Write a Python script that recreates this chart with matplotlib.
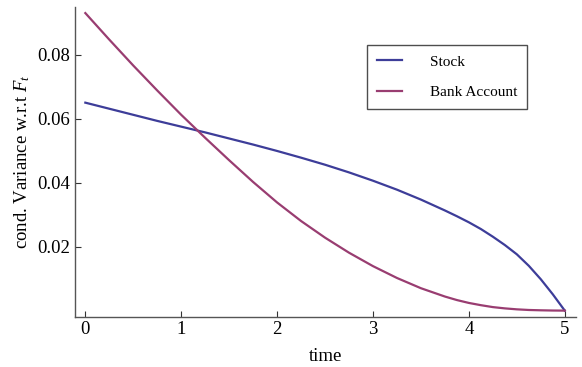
import matplotlib
matplotlib.use("Agg")
import matplotlib.pyplot as plt

plt.rcParams['font.family'] = ['Liberation Serif', 'DejaVu Serif']
plt.rcParams['mathtext.fontset'] = 'custom'
plt.rcParams['mathtext.rm'] = 'Liberation Serif'
plt.rcParams['mathtext.it'] = 'Liberation Serif:italic'

# data
time = [0.0, 0.25, 0.5, 0.75, 1.0, 1.25, 1.5, 1.75, 2.0, 2.25, 2.5, 2.75,
        3.0, 3.25, 3.5, 3.75, 3.875, 4.0, 4.125, 4.25, 4.375, 4.5, 4.625,
        4.75, 4.875, 5.0]
stock = [0.0650, 0.0631, 0.0612, 0.0593, 0.0575, 0.0557, 0.0538, 0.0519,
         0.0499, 0.0478, 0.0456, 0.0432, 0.0406, 0.0378, 0.0347, 0.0313,
         0.0295, 0.0276, 0.0255, 0.0231, 0.0205, 0.0176, 0.0140, 0.0098,
         0.0051, 0.0000]
bank = [0.0930, 0.0847, 0.0766, 0.0688, 0.0612, 0.0540, 0.0470, 0.0402,
        0.0338, 0.0280, 0.0228, 0.0181, 0.0139, 0.0102, 0.0070, 0.0044,
        0.0033, 0.0024, 0.0017, 0.0011, 0.0007, 0.0004, 0.0002, 0.0001,
        0.00003, 0.0000]
series_names = ["Stock", "Bank Account"]
series_colors = ["#3d3d99", "#993d71"]
xticks = [0, 1, 2, 3, 4, 5]
yticks = [0.02, 0.04, 0.06, 0.08]
ytick_labels = ["0.02", "0.04", "0.06", "0.08"]

W, H = 582, 367
fig = plt.figure(figsize=(W / 100, H / 100), dpi=100)
ax = fig.add_axes([74.5 / W, 1 - 316.7 / H, (576 - 74.5) / W, (316.7 - 7) / H])

ax.plot(time, stock, color=series_colors[0], lw=1.6, label=series_names[0],
        solid_joinstyle='round')
ax.plot(time, bank, color=series_colors[1], lw=1.6, label=series_names[1],
        solid_joinstyle='round')

ax.set_xlim(-0.113, 5.117)
ax.set_ylim(-0.0019, 0.0949)

for s in ['top', 'right']:
    ax.spines[s].set_visible(False)
for s in ['left', 'bottom']:
    ax.spines[s].set_color('#555555')
    ax.spines[s].set_linewidth(1.0)

ax.set_xticks(xticks)
ax.set_xticklabels([str(v) for v in xticks])
ax.set_yticks(yticks)
ax.set_yticklabels(ytick_labels)
ax.tick_params(direction='in', length=4, width=0.8, color='#333333',
               labelsize=13.5)
ax.tick_params(axis='x', pad=3)
ax.tick_params(axis='y', pad=3)

ax.set_xlabel('time', fontsize=13.5, labelpad=7)
ax.set_ylabel(r'cond. Variance w.r.t $F_t$', fontsize=13.5, labelpad=4)

leg = ax.legend(loc='upper left', bbox_to_anchor=(367.3 / W, 1 - 45 / H),
                bbox_transform=fig.transFigure, borderaxespad=0,
                fontsize=11, frameon=True, fancybox=False,
                edgecolor='#222222', handlelength=1.6, handletextpad=1.85,
                borderpad=0.65, labelspacing=1.1)
leg.get_frame().set_linewidth(1.0)

fig.savefig('out.png', dpi=100)
